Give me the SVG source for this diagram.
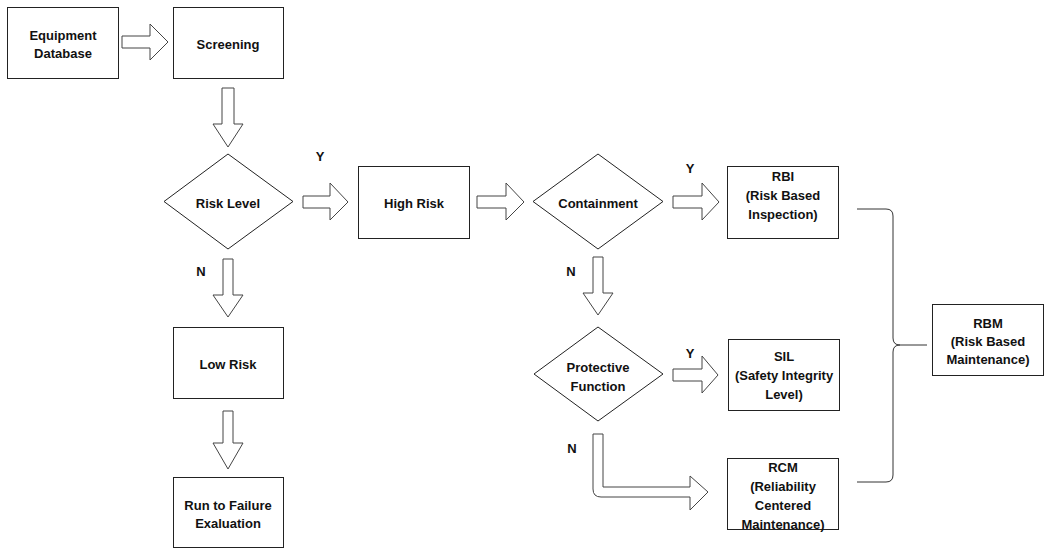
<svg xmlns="http://www.w3.org/2000/svg" width="1048" height="549" viewBox="0 0 1048 549">
  <style>
    .box { fill: #fff; stroke: #222; stroke-width: 1; }
    .arrow { fill: #fff; stroke: #444; stroke-width: 1; stroke-linejoin: miter; }
    .line { fill: none; stroke: #333; stroke-width: 1; }
    text { font-family: "Liberation Sans", Arial, sans-serif; font-size: 13px; font-weight: bold; fill: #111; text-anchor: middle; }
  </style>
  <rect width="1048" height="549" fill="#fff"/>

  <!-- block-arrow connectors -->
  <g id="connectors">
    <path class="arrow" d="M122,36 H150 V24 L168,42 L150,60 V48 H122 Z"/>
    <path class="arrow" d="M222,88 H234 V124 H243 L228,147 L213,124 H222 Z"/>
    <path class="arrow" d="M303,196 H330 V183 L348,202 L330,220 V208 H303 Z"/>
    <path class="arrow" d="M477,196 H506 V183 L524,202 L506,220 V208 H477 Z"/>
    <path class="arrow" d="M673,196 H702 V183 L719,202 L702,220 V208 H673 Z"/>
    <path class="arrow" d="M223,259 H233 V295 H243 L228,317 L213,295 H223 Z"/>
    <path class="arrow" d="M223,411 H233 V443 H243 L228,469 L213,443 H223 Z"/>
    <path class="arrow" d="M593,257 H603 V293 H613 L598,315 L583,293 H593 Z"/>
    <path class="arrow" d="M673,369 H702 V356 L718,375 L702,393 V381 H673 Z"/>
    <path class="arrow" d="M593,434 H603 V487 H690 V476 L708,492 L690,510 V497 H601 Q593,497 593,489 Z"/>
    <!-- brace gathering RBI, SIL and RCM into RBM -->
    <path class="line" d="M857,209 H886 Q893,209 893,216 V338 Q893,345 900,345 Q893,345 893,352 V475 Q893,482 886,482 H857"/>
    <path class="line" d="M900,345 H927"/>
    <text x="320" y="161">Y</text>
    <text x="690" y="173">Y</text>
    <text x="690" y="358">Y</text>
    <text x="201" y="276">N</text>
    <text x="571" y="276">N</text>
    <text x="572" y="453">N</text>
  </g>

  <g id="equipment-database">
    <rect class="box" x="7.5" y="7.5" width="111" height="71"/>
    <text x="63" y="40">Equipment</text>
    <text x="63" y="58">Database</text>
  </g>
  <g id="screening">
    <rect class="box" x="173.5" y="7.5" width="110" height="71"/>
    <text x="228" y="49">Screening</text>
  </g>
  <g id="risk-level">
    <polygon class="box" points="228,154 293,201.5 228,249 164,201.5"/>
    <text x="228" y="208">Risk Level</text>
  </g>
  <g id="high-risk">
    <rect class="box" x="358.5" y="166.5" width="111" height="72"/>
    <text x="414" y="208">High Risk</text>
  </g>
  <g id="containment">
    <polygon class="box" points="598,154 663,201.5 598,249 533,201.5"/>
    <text x="598" y="208">Containment</text>
  </g>
  <g id="rbi">
    <rect class="box" x="727.5" y="166.5" width="111" height="72"/>
    <text x="783" y="181">RBI</text>
    <text x="783" y="200">(Risk Based</text>
    <text x="783" y="219">Inspection)</text>
  </g>
  <g id="low-risk">
    <rect class="box" x="173.5" y="327.5" width="110" height="71"/>
    <text x="228" y="369">Low Risk</text>
  </g>
  <g id="run-to-failure">
    <rect class="box" x="173.5" y="477.5" width="110" height="70"/>
    <text x="228" y="510">Run to Failure</text>
    <text x="228" y="528">Exaluation</text>
  </g>
  <g id="protective-function">
    <polygon class="box" points="598,327 663,374 598,421 534,374"/>
    <text x="598" y="372">Protective</text>
    <text x="598" y="391">Function</text>
  </g>
  <g id="sil">
    <rect class="box" x="728.5" y="339.5" width="111" height="71"/>
    <text x="784" y="361">SIL</text>
    <text x="784" y="380">(Safety Integrity</text>
    <text x="784" y="399">Level)</text>
  </g>
  <g id="rcm">
    <rect class="box" x="727.5" y="458.5" width="111" height="71"/>
    <text x="783" y="472">RCM</text>
    <text x="783" y="491">(Reliability</text>
    <text x="783" y="510">Centered</text>
    <text x="783" y="529">Maintenance)</text>
  </g>
  <g id="rbm">
    <rect class="box" x="932.5" y="304.5" width="111" height="71"/>
    <text x="988" y="328">RBM</text>
    <text x="988" y="346">(Risk Based</text>
    <text x="988" y="364">Maintenance)</text>
  </g>
</svg>
